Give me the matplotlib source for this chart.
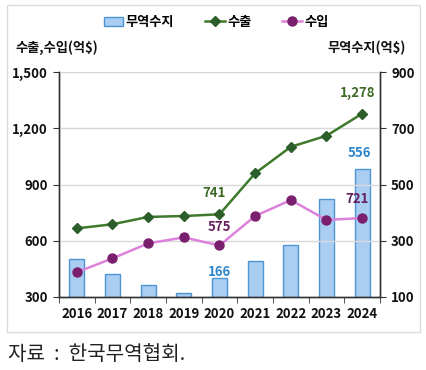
import numpy as np
import matplotlib.pyplot as plt
from matplotlib.patches import Rectangle

plt.rcParams['font.family'] = ['Noto Sans CJK KR', 'DejaVu Sans']

years = ['2016', '2017', '2018', '2019', '2020', '2021', '2022', '2023', '2024']
exports = [666, 688, 727, 732, 741, 960, 1101, 1160, 1278]
imports = [432, 506, 586, 618, 575, 732, 817, 711, 721]
balance = [234, 182, 141, 114, 166, 228, 284, 449, 556]

c_bar = '#aacdf2'
c_bar_edge = '#4d95d6'
c_exp = '#3f7a2c'
c_exp_mk = '#2b5e2b'
c_imp = '#dc82dc'
c_imp_mk = '#7a1f6e'
c_exp_txt = '#3d6b24'
c_imp_txt = '#65205e'
c_bal_txt = '#2c86cc'

fig = plt.figure(figsize=(4.27, 3.70), dpi=100)
fig.patches.append(Rectangle((7 / 427, 1 - 332 / 370), 413 / 427, 327 / 370,
                             transform=fig.transFigure, fill=False,
                             edgecolor='#dcdcdc', linewidth=1.0))

ax = fig.add_axes([59 / 427, 1 - 297 / 370, 321 / 427, 225 / 370])
ax2 = ax.twinx()
x = np.arange(len(years))

# bars on right axis, lines on left axis (drawn on top)
ax2.bar(x, balance, width=0.42, color=c_bar, edgecolor=c_bar_edge, linewidth=1.0,
        label='무역수지', zorder=1)
ax2.set_ylim(100, 900)
ax2.set_yticks([100, 300, 500, 700, 900])
ax2.set_yticklabels(['100', '300', '500', '700', '900'])

ax.set_zorder(ax2.get_zorder() + 1)
ax.patch.set_visible(False)
ax.plot(x, exports, color=c_exp, linewidth=1.8, marker='D', markersize=5,
        markerfacecolor=c_exp_mk, markeredgecolor=c_exp_mk, label='수출')
ax.plot(x, imports, color=c_imp, linewidth=1.8, marker='o', markersize=6.5,
        markerfacecolor=c_imp_mk, markeredgecolor=c_imp_mk, label='수입')
ax.set_ylim(300, 1500)
ax.set_xlim(-0.5, len(years) - 0.5)
ax.set_yticks([300, 600, 900, 1200, 1500])
ax.set_yticklabels(['300', '600', '900', '1,200', '1,500'])
for v in [600, 900, 1200, 1500]:
    ax.axhline(v, color='#d9d9d9', linewidth=1.0, zorder=0)

ax.set_xticks(x)
ax.set_xticklabels(years)
ax.set_xticks(np.arange(-0.5, len(years), 1), minor=True)
ax.tick_params(axis='x', which='major', length=0, pad=7)
ax.tick_params(axis='x', which='minor', length=4, direction='out', color='#333333')
ax.tick_params(axis='y', length=4, direction='out', color='#333333', pad=4)
ax2.tick_params(axis='y', length=4, direction='out', color='#333333', pad=4)

for a in (ax, ax2):
    a.spines['top'].set_visible(False)
    for s in ('left', 'right', 'bottom'):
        a.spines[s].set_color('#333333')
        a.spines[s].set_linewidth(1.0)
    for lab in a.get_yticklabels() + a.get_xticklabels():
        lab.set_fontsize(9.5)
        lab.set_fontweight('bold')
        lab.set_color('#111111')

# data labels
def lbl(axis, xi, yi, text, color, dx, dy):
    axis.annotate(text, (xi, yi), xytext=(dx, dy), textcoords='offset points',
                  ha='center', va='center', fontsize=9.5, fontweight='bold', color=color)

lbl(ax, 8, exports[8], '1,278', c_exp_txt, -3, 15)
lbl(ax, 4, exports[4], '741', c_exp_txt, -4, 15)
lbl(ax, 4, imports[4], '575', c_imp_txt, 0, 13)
lbl(ax, 4, imports[4], '166', c_bal_txt, 0, -19)
lbl(ax2, 8, balance[8], '556', c_bal_txt, -2, 11)
lbl(ax, 8, imports[8], '721', c_imp_txt, -4, 14)

fig.text(15 / 427, 1 - 48 / 370, '수출,수입(억$)', fontsize=9.5, fontweight='bold',
         va='center', ha='left', color='#111111')
fig.text(406 / 427, 1 - 48 / 370, '무역수지(억$)', fontsize=9.5, fontweight='bold',
         va='center', ha='right', color='#111111')

h1, l1 = ax2.get_legend_handles_labels()
h2, l2 = ax.get_legend_handles_labels()
fig.legend(h1 + h2, l1 + l2, loc='center', bbox_to_anchor=(216 / 427, 1 - 22 / 370),
           ncol=3, frameon=False, prop={'size': 9.5, 'weight': 'bold'},
           handlelength=1.5, handletextpad=0.2, columnspacing=2.3)

fig.text(8 / 427, 1 - 355 / 370, '자료  :  한국무역협회.', fontsize=14.5,
         va='center', ha='left', color='#222222')

fig.savefig('out.png', dpi=100)
